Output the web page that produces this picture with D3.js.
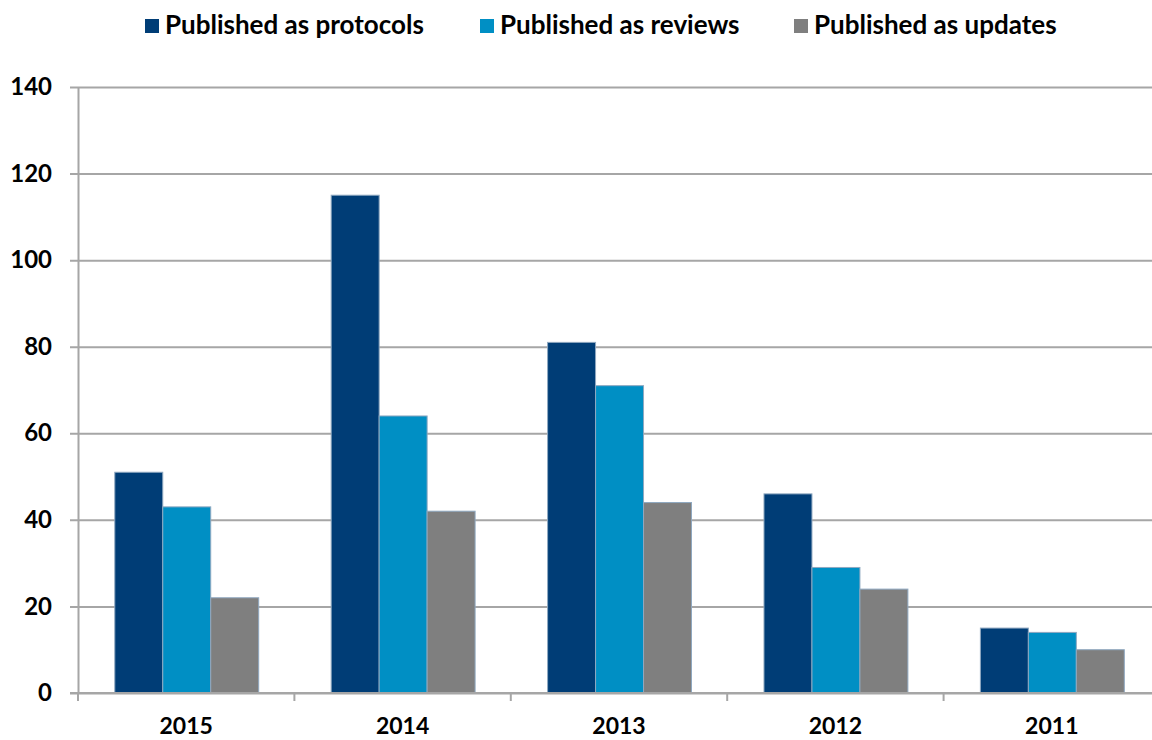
<!DOCTYPE html>
<html>
<head>
<meta charset="utf-8">
<script src="https://cdn.jsdelivr.net/npm/d3@7"></script>
<style>
  body { margin: 0; background: #fff; }
  text { font-family: "Source Sans Pro", Lato, sans-serif; font-weight: bold; fill: #000; }
</style>
</head>
<body>
<div id="viz"></div>
<script>
// chart data
const years = ['2015', '2014', '2013', '2012', '2011'];
const seriesNames = ['Published as protocols', 'Published as reviews', 'Published as updates'];
const protocols = [51, 115, 81, 46, 15];
const reviews = [43, 64, 71, 29, 14];
const updates = [22, 42, 44, 24, 10];
const yTicks = [0, 20, 40, 60, 80, 100, 120, 140];
const colors = ['#003d76', '#008fc4', '#7f7f7f'];

const width = 1152, height = 740;
// the plot area runs a little past the right edge of the picture
const plot = { left: 78, right: 1160, top: 87, bottom: 693 };

const svg = d3.select('#viz')
  .append('svg')
  .attr('width', width)
  .attr('height', height);

const rows = years.map((y, i) => ({ year: y, values: [protocols[i], reviews[i], updates[i]] }));

// scales
const x = d3.scaleBand()
  .domain(years)
  .range([plot.left, plot.right])
  .padding(0);

const xSeries = d3.scaleBand()
  .domain(d3.range(seriesNames.length))
  .range([x.step() * 0.17, x.step() * 0.835]);

const y = d3.scaleLinear()
  .domain([0, 140])
  .range([plot.bottom, plot.top]);

// gridlines
const gy = svg.append('g')
  .attr('transform', `translate(${width},0)`)
  .call(d3.axisLeft(y).tickValues(yTicks).tickSize(width - plot.left + 8).tickFormat(''));
gy.select('.domain').remove();
gy.selectAll('.tick line').attr('stroke', '#a6a6a6').attr('stroke-width', 2);

// y axis labels
const gyl = svg.append('g')
  .attr('transform', `translate(${plot.left},0)`)
  .call(d3.axisLeft(y).tickValues(yTicks).tickSize(0).tickPadding(26));
gyl.select('.domain').attr('stroke', '#a6a6a6').attr('stroke-width', 2);
gyl.selectAll('.tick text').style('font-size', '24px');

// bars
const groups = svg.append('g')
  .selectAll('g')
  .data(rows)
  .join('g')
  .attr('transform', d => `translate(${x(d.year)},0)`);

groups.selectAll('rect')
  .data(d => d.values)
  .join('rect')
  .attr('x', (d, i) => xSeries(i))
  .attr('y', d => y(d))
  .attr('width', xSeries.bandwidth())
  .attr('height', d => y(0) - y(d))
  .attr('fill', (d, i) => colors[i])
  .attr('stroke', '#8fa8c0')
  .attr('stroke-width', 1);

// x axis
const gx = svg.append('g')
  .attr('transform', `translate(0,${y(0)})`)
  .call(d3.axisBottom(x).tickSize(0).tickPadding(25));
gx.select('.domain').attr('stroke', '#a6a6a6').attr('stroke-width', 2)
  .attr('d', `M${plot.left - 8},0H${width}`);
gx.selectAll('.tick text').style('font-size', '23px');

// category separators
svg.append('g').selectAll('line')
  .data(years)
  .join('line')
  .attr('x1', d => x(d)).attr('x2', d => x(d))
  .attr('y1', y(0)).attr('y2', y(0) + 8)
  .attr('stroke', '#a6a6a6').attr('stroke-width', 2);

// legend
const legendX = [145, 480, 794];
const legend = svg.append('g')
  .selectAll('g')
  .data(seriesNames)
  .join('g')
  .attr('transform', (d, i) => `translate(${legendX[i]},19)`);
legend.append('rect')
  .attr('width', 14).attr('height', 14)
  .attr('fill', (d, i) => colors[i]);
legend.append('text')
  .attr('x', 20).attr('y', 15)
  .style('font-size', '26px')
  .text(d => d);
</script>
</body>
</html>
